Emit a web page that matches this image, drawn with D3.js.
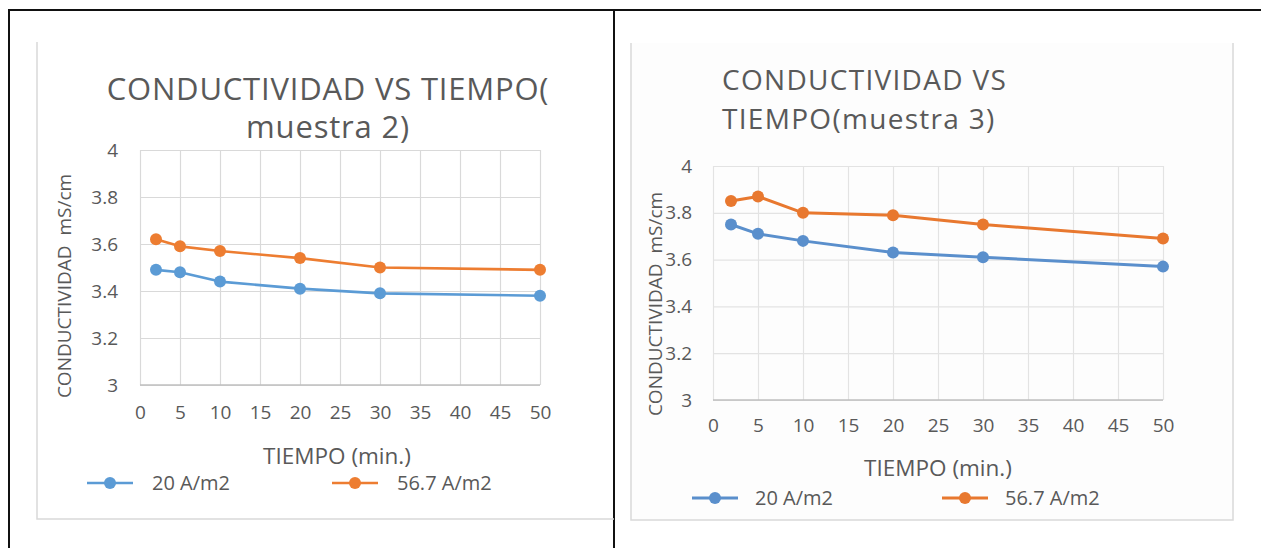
<!DOCTYPE html>
<html>
<head>
<meta charset="utf-8">
<script src="https://cdn.jsdelivr.net/npm/d3@7"></script>
<style>
  body { margin: 0; background: #fff; }
  svg text { font-family: "Open Sans", Lato, sans-serif; fill: #595959; }
</style>
</head>
<body>
<svg id="chart" width="1261" height="548"></svg>
<script>
// tiempo (min.)
const tiempo = [2, 5, 10, 20, 30, 50];
const serieNames = ['20 A/m2', '56.7 A/m2'];

// muestra 2
const m2_20 = [3.49, 3.48, 3.44, 3.41, 3.39, 3.38];
const m2_567 = [3.62, 3.59, 3.57, 3.54, 3.50, 3.49];

// muestra 3
const m3_20 = [3.75, 3.71, 3.68, 3.63, 3.61, 3.57];
const m3_567 = [3.85, 3.87, 3.80, 3.79, 3.75, 3.69];

const xTicks = [0, 5, 10, 15, 20, 25, 30, 35, 40, 45, 50];
const yTicks = [3, 3.2, 3.4, 3.6, 3.8, 4];
const colores = ['#5B9BD5', '#ED7D31'];

const svg = d3.select('#chart');

// table borders
svg.append('line').attr('x1', 8).attr('x2', 1261).attr('y1', 10).attr('y2', 10)
    .attr('stroke', '#111').attr('stroke-width', 2);
svg.append('line').attr('x1', 9).attr('x2', 9).attr('y1', 9).attr('y2', 548)
    .attr('stroke', '#111').attr('stroke-width', 2);
svg.append('line').attr('x1', 614).attr('x2', 614).attr('y1', 9).attr('y2', 548)
    .attr('stroke', '#111').attr('stroke-width', 2);

function drawChart(o) {
    const g = svg.append('g');

    // chart area frame
    if (o.fill) {
        g.append('rect').attr('x', o.box[0]).attr('y', o.box[1])
            .attr('width', o.box[2] - o.box[0]).attr('height', o.box[3] - o.box[1])
            .attr('fill', o.fill);
    }
    g.append('path')
        .attr('d', o.frame)
        .attr('fill', 'none').attr('stroke', '#d9d9d9').attr('stroke-width', 1.5);

    // titles
    o.title.forEach((t, i) => {
        g.append('text').attr('x', o.titleX).attr('y', o.titleY[i])
            .attr('text-anchor', o.titleAnchor)
            .style('font-size', o.titleSize + 'px')
            .style('letter-spacing', o.titleSpacing + 'px')
            .text(t);
    });

    const x = d3.scaleLinear().domain([0, 50]).range([o.x0, o.x1]);
    const y = d3.scaleLinear().domain([3, 4]).range([o.y0, o.y1]);

    // grid
    g.append('g')
        .attr('transform', `translate(0,${o.y0})`)
        .call(d3.axisBottom(x).tickValues(xTicks).tickSize(-(o.y0 - o.y1)).tickFormat(''))
        .call(a => a.select('.domain').remove())
        .call(a => a.selectAll('line').attr('stroke', o.grid).attr('stroke-width', 1.2));
    g.append('g')
        .attr('transform', `translate(${o.x0},0)`)
        .call(d3.axisLeft(y).tickValues(yTicks).tickSize(-(o.x1 - o.x0)).tickFormat(''))
        .call(a => a.select('.domain').remove())
        .call(a => a.selectAll('line').attr('stroke', o.grid).attr('stroke-width', 1.2));
    g.append('line').attr('x1', o.x0).attr('x2', o.x1).attr('y1', o.y0).attr('y2', o.y0)
        .attr('stroke', '#bfbfbf').attr('stroke-width', 1.5);

    // tick labels
    g.append('g')
        .attr('transform', `translate(0,${o.y0})`)
        .call(d3.axisBottom(x).tickValues(xTicks).tickSize(0).tickPadding(o.xPad))
        .call(a => a.select('.domain').remove())
        .call(a => a.selectAll('text').style('font-size', o.tickSize + 'px')
            .attr('font-family', null).attr('fill', null));
    g.append('g')
        .attr('transform', `translate(${o.x0},0)`)
        .call(d3.axisLeft(y).tickValues(yTicks).tickSize(0).tickPadding(o.yPad)
            .tickFormat(d => String(+d.toFixed(1))))
        .call(a => a.select('.domain').remove())
        .call(a => a.selectAll('text').style('font-size', o.tickSize + 'px')
            .attr('font-family', null).attr('fill', null));

    // axis titles
    g.append('text').attr('x', o.xTitleX).attr('y', o.xTitleY)
        .attr('text-anchor', 'middle').style('font-size', o.xLabelSize + 'px')
        .text('TIEMPO (min.)');
    g.append('text')
        .attr('transform', `translate(${o.yTitleX},${o.yTitleY}) rotate(-90)`)
        .attr('text-anchor', 'middle').style('font-size', o.yLabelSize + 'px')
        .style('white-space', 'pre')
        .text('CONDUCTIVIDAD  mS/cm');

    // series
    const line = d3.line().x(d => x(d[0])).y(d => y(d[1]));
    o.series.forEach((vals, i) => {
        const pts = tiempo.map((t, j) => [t, vals[j]]);
        g.append('path').datum(pts)
            .attr('d', line)
            .attr('fill', 'none')
            .attr('stroke', o.colors[i])
            .attr('stroke-width', o.lineW)
            .attr('stroke-linejoin', 'round');
        g.selectAll(null).data(pts).enter().append('circle')
            .attr('cx', d => x(d[0])).attr('cy', d => y(d[1]))
            .attr('r', o.r).attr('fill', o.colors[i]);
    });

    // legend
    serieNames.forEach((name, i) => {
        const lx = o.legendX[i];
        g.append('line').attr('x1', lx).attr('x2', lx + o.legendLen)
            .attr('y1', o.legendY).attr('y2', o.legendY)
            .attr('stroke', o.colors[i]).attr('stroke-width', o.lineW);
        g.append('circle').attr('cx', lx + o.legendLen / 2).attr('cy', o.legendY)
            .attr('r', o.r).attr('fill', o.colors[i]);
        g.append('text').attr('x', lx + o.legendLen + o.legendGap).attr('y', o.legendY + 7)
            .style('font-size', o.legendSize + 'px')
            .text(name);
    });
}

// muestra 2
drawChart({
    frame: 'M37,42 V519 H614',
    title: ['CONDUCTIVIDAD VS TIEMPO(', 'muestra 2)'],
    titleX: 328, titleY: [100, 138], titleAnchor: 'middle', titleSize: 31, titleSpacing: 0.8,
    x0: 140, x1: 540, y0: 385, y1: 150,
    grid: '#d9d9d9',
    tickSize: 19, xPad: 21, yPad: 22,
    xLabelSize: 22.5, yLabelSize: 19, legendSize: 20,
    xTitleX: 337, xTitleY: 464,
    yTitleX: 71, yTitleY: 286,
    series: [m2_20, m2_567], colors: colores,
    lineW: 2.6, r: 6,
    legendX: [87, 332], legendLen: 46, legendGap: 19, legendY: 483
});

// muestra 3
drawChart({
    frame: 'M631,43 V520 H1233 V43',
    fill: '#fdfdfd',
    box: [631, 43, 1233, 520],
    title: ['CONDUCTIVIDAD VS', 'TIEMPO(muestra 3)'],
    titleX: 722, titleY: [90, 129], titleAnchor: 'start', titleSize: 28, titleSpacing: 1.3,
    x0: 713, x1: 1163, y0: 400, y1: 166,
    grid: '#e3e3e3',
    tickSize: 19, xPad: 19, yPad: 21,
    xLabelSize: 22.5, yLabelSize: 19, legendSize: 20,
    xTitleX: 938, xTitleY: 476,
    yTitleX: 662, yTitleY: 304,
    series: [m3_20, m3_567], colors: ['#5a8fcc', '#e8782f'],
    lineW: 3, r: 6,
    legendX: [692, 942], legendLen: 46, legendGap: 17, legendY: 498
});
</script>
</body>
</html>
